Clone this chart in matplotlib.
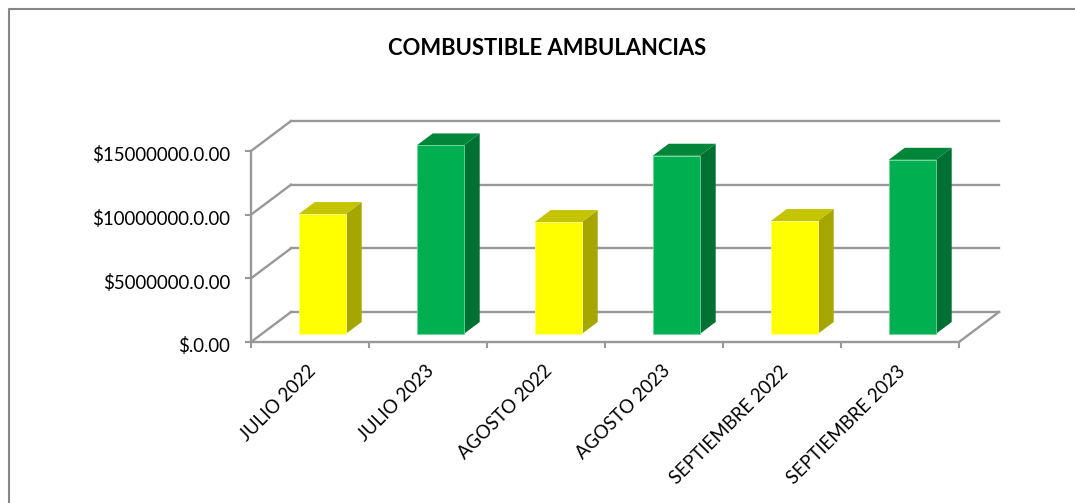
import numpy as np
import matplotlib
matplotlib.use("Agg")
import matplotlib.pyplot as plt
from matplotlib.transforms import ScaledTranslation

plt.rcParams['font.family'] = ['Lato', 'DejaVu Sans']

categories = ['JULIO 2022', 'JULIO 2023', 'AGOSTO 2022', 'AGOSTO 2023', 'SEPTIEMBRE 2022', 'SEPTIEMBRE 2023']
values = [9420000, 14810000, 8790000, 14000000, 8870000, 13680000]
y_ticks = [0, 5000000, 10000000, 15000000]
y_labels = ['$.0.00', '$5000000.0.00', '$10000000.0.00', '$15000000.0.00']
face_colors = ['#FFFF00', '#00B050', '#FFFF00', '#00B050', '#FFFF00', '#00B050']
side_colors = ['#A6A600', '#007033', '#A6A600', '#007033', '#A6A600', '#007033']
top_colors = ['#C4C400', '#008539', '#C4C400', '#008539', '#C4C400', '#008539']
edge_colors = ['#FFFF80', '#70D8A0', '#FFFF80', '#70D8A0', '#FFFF80', '#70D8A0']

W, H = 1075, 503
grey = '#989898'

fig = plt.figure(figsize=(W / 100, H / 100), dpi=100, facecolor='white')
ax = fig.add_axes([251 / W, 1 - 342 / H, (959 - 251) / W, (342 - 151) / H])
ax.set_xlim(0, 6)
ax.set_ylim(0, 15000000)

# depth of the fake 3d box, in data units
wall_dx = 40 / 118
wall_dy = 30 / 191 * 15000000
bar_w = 47 / 118
bar_dx = 16 / 118
bar_dy = 12 / 191 * 15000000
bar_x0 = 47.7 / 118
bar_y0 = 8 / 191 * 15000000

for t in y_ticks:
    ax.plot([0, wall_dx], [t, t + wall_dy], color=grey, lw=1.7, clip_on=False, zorder=1)
    ax.plot([wall_dx, 6 + wall_dx], [t + wall_dy, t + wall_dy], color=grey, lw=1.7, clip_on=False, zorder=1)
ax.plot([6, 6 + wall_dx], [0, wall_dy], color=grey, lw=1.7, clip_on=False, zorder=1)

for i, v in enumerate(values):
    x0 = i + bar_x0
    x1 = x0 + bar_w
    y0 = bar_y0
    y1 = bar_y0 + v
    ax.fill([x1, x1 + bar_dx, x1 + bar_dx, x1], [y0, y0 + bar_dy, y1 + bar_dy, y1],
            color=side_colors[i], lw=0, clip_on=False, zorder=3)
    ax.fill([x0, x1, x1 + bar_dx, x0 + bar_dx], [y1, y1, y1 + bar_dy, y1 + bar_dy],
            color=top_colors[i], lw=0, clip_on=False, zorder=3)
    ax.fill([x0, x1, x1, x0], [y0, y0, y1, y1], facecolor=face_colors[i],
            edgecolor=edge_colors[i], lw=0.6, clip_on=False, zorder=4)

for s in ['top', 'right']:
    ax.spines[s].set_visible(False)
for s in ['left', 'bottom']:
    ax.spines[s].set_color(grey)
    ax.spines[s].set_linewidth(1.7)

ax.set_yticks(y_ticks)
ax.set_yticklabels(y_labels, fontsize=13.4, color='black')
ax.set_xticks(range(7))
ax.set_xticklabels([])
ax.tick_params(axis='both', color=grey, width=1.5, length=4.2)
ax.tick_params(axis='y', pad=11)

# labels sit a little under their ticks
nudge = ScaledTranslation(0, -2 / 72, fig.dpi_scale_trans)
for lab in ax.get_yticklabels():
    lab.set_transform(lab.get_transform() + nudge)

for i, c in enumerate(categories):
    ax.annotate(c, (i + 0.5, 0), xytext=(-2.2, -14.6), textcoords='offset points', rotation=45,
                rotation_mode='anchor', ha='right', va='top', fontsize=13.4, color='black')

fig.text(547 / W, 1 - 48.5 / H, 'COMBUSTIBLE AMBULANCIAS', ha='center', va='center',
         fontsize=15.8, fontweight='bold', color='black')

# chart area border, only top and left show in the crop
fig.add_artist(plt.Line2D([8.5 / W, 8.5 / W, 1], [0, 1 - 9 / H, 1 - 9 / H], color='#868686', lw=1.5))

fig.savefig('out.png', dpi=100)
